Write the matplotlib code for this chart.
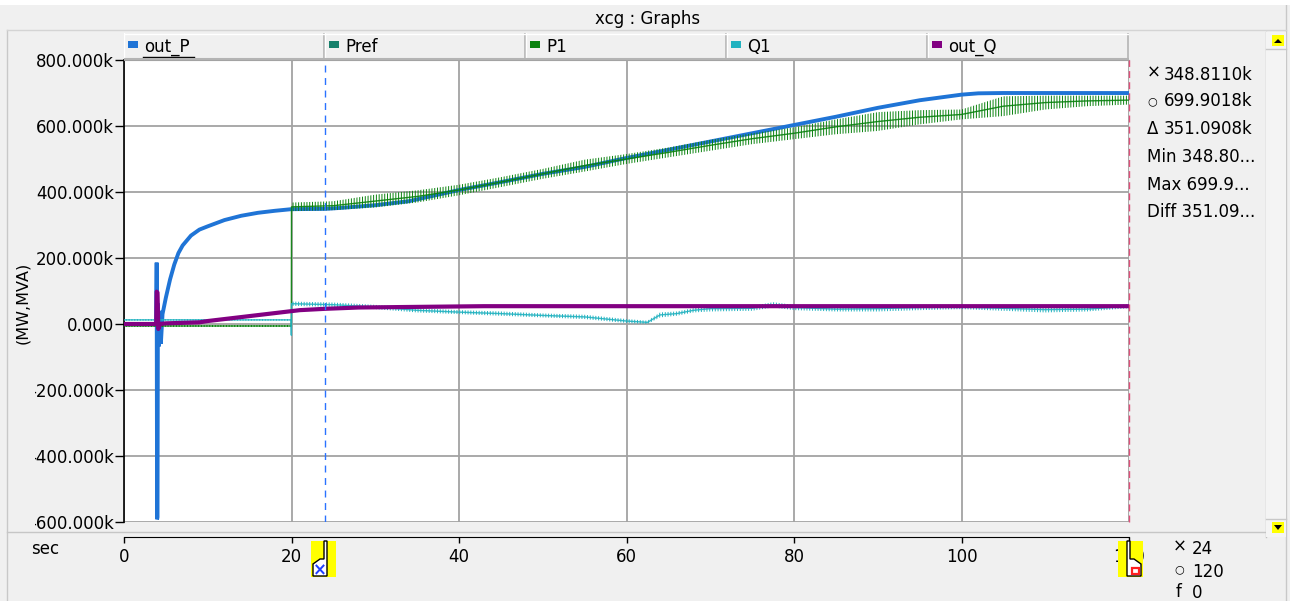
import numpy as np
import matplotlib
matplotlib.use('Agg')
import matplotlib.pyplot as plt
from matplotlib.patches import Rectangle, Polygon
from matplotlib.lines import Line2D
import matplotlib.transforms as mtransforms
from matplotlib.ticker import FuncFormatter, FixedLocator

W, H = 1290, 601

# ---------------- data (values in k) ----------------
series_names = ['out_P', 'Pref', 'P1', 'Q1', 'out_Q']
series_colors = ['#1f74d6', '#17806b', '#0a820f', '#22b2c0', '#820082']

t_outP = [0, 3.85, 3.9, 3.95, 4.0, 4.05, 4.15, 4.25, 4.4, 4.6, 5.0, 5.5, 6.0, 6.5, 7.0,
          8.0, 9.0, 10, 12, 14, 16, 18, 20, 24, 26, 30, 34, 40, 45, 50, 55, 60, 65,
          70, 75, 80, 85, 90, 95, 100, 102, 105, 120]
v_outP = [0, 0, 186, -592, -585, 62, -68, 40, -60, 30, 80, 135, 180, 215, 238,
          268, 286, 296, 315, 328, 337, 343, 348, 348.8, 352, 360, 372, 406, 430, 455, 476, 503, 528,
          553, 578, 603, 628, 655, 678, 695, 699, 700, 699.9]

t_P1 = [0, 19.98, 20.0, 25, 30, 35, 40, 45, 50, 55, 60, 65, 70, 75, 80, 85, 90, 95,
        100, 105, 110, 115, 120]
P1_lo = [-9, -9, 342, 345, 353, 368, 390, 415, 440, 462, 485, 505, 525, 545, 560, 575,
         585, 605, 620, 630, 650, 660, 665]
P1_hi = [-3, -3, 368, 372, 392, 405, 422, 445, 470, 498, 515, 535, 558, 578, 596, 620,
         642, 648, 650, 690, 692, 692, 692]

t_Q1 = [0, 19.96, 19.98, 20.0, 25, 30, 35, 40, 45, 50, 55, 60, 62.5, 64, 66, 68, 70,
        75, 77.5, 80, 85, 90, 95, 100, 105, 110, 115, 120]
Q1_lo = [10, 10, -38, 55, 52, 45, 35, 30, 25, 20, 15, 3, 0, 20, 25, 35, 38,
         40, 50, 42, 38, 38, 42, 45, 40, 35, 38, 48]
Q1_hi = [15, 15, -30, 68, 65, 58, 48, 42, 38, 32, 28, 15, 10, 35, 38, 48, 55,
         55, 66, 58, 52, 55, 58, 58, 55, 52, 52, 60]

t_outQ = [0, 3.85, 3.9, 4.0, 4.1, 4.3, 5.0, 9.0, 10, 12, 14, 16, 18, 20, 21, 24, 28, 43, 120]
v_outQ = [0, 0, 98, 95, -15, 0, 2, 5, 9, 15, 21, 27, 33, 39, 42, 46, 50, 54, 54]

x_ticks = [0, 20, 40, 60, 80, 100, 120]
y_ticks = [-600, -400, -200, 0, 200, 400, 600, 800]
cursor_x = 24
cursor_o = 120
cursor_texts = ['348.8110k', '699.9018k', '351.0908k']
stat_texts = ['Min 348.80...', 'Max 699.9...', 'Diff 351.09...']
time_texts = ['24', '120', '0']
title_text = 'xcg : Graphs'
ylabel_text = '(MW,MVA)'
xunit_text = 'sec'

# ---------------- figure ----------------
FS = 12
plt.rcParams['font.family'] = ['DejaVu Sans']
plt.rcParams['hatch.linewidth'] = 0.7
BG = '#f0f0f0'
fig = plt.figure(figsize=(W / 100, H / 100), dpi=100, facecolor=BG)
ID = mtransforms.IdentityTransform()


def P(x, y):
    """image pixel -> display coords"""
    return (x, H - y)


def rect_px(x0, y0, x1, y1, **kw):
    r = Rectangle(P(x0, y1), x1 - x0, y1 - y0, transform=ID, **kw)
    fig.patches.append(r)
    return r


def line_px(xs, ys, **kw):
    l = Line2D(xs, [H - y for y in ys], transform=ID, **kw)
    fig.lines.append(l)
    return l


def text_px(x, y, s, **kw):
    kw.setdefault('fontsize', FS)
    kw.setdefault('va', 'center')
    return fig.text(x, H - y, s, transform=ID, **kw)


# window chrome
rect_px(0, 0, W, 5, facecolor='white', edgecolor='none', zorder=0)
line_px([7, 7], [30, 601], color='#c8c8c8', lw=1, zorder=0)
line_px([1286, 1286], [5, 601], color='#c8c8c8', lw=1, zorder=0)
line_px([7, 1286], [30, 30], color='#d4d4d4', lw=1, zorder=0)
text_px(648, 19, title_text, ha='center')

# main axes
AX_L, AX_R, AX_T, AX_B = 124, 1129, 60, 522
ax = fig.add_axes([AX_L / W, (H - AX_B) / H, (AX_R - AX_L) / W, (AX_B - AX_T) / H])
ax.set_facecolor('white')
ax.set_xlim(0, 120)
ax.set_ylim(-600, 800)

grid_c = '#a3a3a3'
ax.xaxis.set_major_locator(FixedLocator(x_ticks))
ax.yaxis.set_major_locator(FixedLocator(y_ticks))
ax.grid(True, color=grid_c, lw=1.3, zorder=0)
ax.set_axisbelow(True)


def yfmt(v, pos):
    if v == 0:
        return '0.000'
    return '%.3fk' % v


ax.yaxis.set_major_formatter(FuncFormatter(yfmt))
ax.tick_params(axis='y', direction='out', length=6.5, width=1, pad=0.5, labelsize=FS,
               colors='black')
ax.tick_params(axis='x', direction='out', length=4.5, width=1, pad=3.0, labelsize=FS,
               colors='black')
ax.spines['bottom'].set_position(('outward', 11))
ax.spines['bottom'].set_color('black')
ax.spines['left'].set_color('black')
ax.spines['left'].set_linewidth(1.2)
ax.spines['top'].set_color(grid_c)
ax.spines['right'].set_visible(False)

ax.set_ylabel(ylabel_text, fontsize=11.5)
ax.yaxis.set_label_coords((30 - AX_L) / (AX_R - AX_L), (AX_B - 303) / (AX_B - AX_T))

# series
c_outP, c_Pref, c_P1, c_Q1, c_outQ = series_colors
ax.plot(t_outP, v_outP, color=c_outP, lw=2.8, zorder=3, solid_joinstyle='miter')

plt.rcParams['hatch.color'] = c_P1
ax.fill_between(t_P1, P1_lo, P1_hi, facecolor='none', edgecolor=c_P1, linewidth=0,
                hatch='||||||', zorder=4)
P1_mid = (np.array(P1_lo) + np.array(P1_hi)) / 2
ax.plot(t_P1, P1_mid, color=c_P1, lw=1.0, alpha=0.9, zorder=4)

plt.rcParams['hatch.color'] = c_Q1
ax.fill_between(t_Q1, Q1_lo, Q1_hi, facecolor='none', edgecolor=c_Q1, linewidth=0,
                hatch='||||||', zorder=5)
Q1_mid = (np.array(Q1_lo) + np.array(Q1_hi)) / 2
ax.plot(t_Q1, Q1_mid, color=c_Q1, lw=1.0, alpha=0.9, zorder=5)

ax.plot(t_outQ, v_outQ, color=c_outQ, lw=3.0, zorder=6)

# cursors
ax.axvline(cursor_x, color='#2a72ff', lw=1.0, dashes=(5, 4), zorder=7)
ax.axvline(cursor_o, color='#e0507a', lw=1.0, dashes=(5, 3), zorder=7, clip_on=False)

# the panel edge hides most of the minus sign of negative tick labels
rect_px(30, 380, 34.8, 530, facecolor=BG, edgecolor='none', zorder=3)

# separator line above x axis strip
line_px([7, 1265], [532, 532], color='#c6c6c6', lw=1, zorder=0)
text_px(31, 549, xunit_text, ha='left')

# legend header
hdr = fig.add_axes([AX_L / W, (H - AX_T) / H, (AX_R - AX_L) / W, 27 / H])
hdr.set_xlim(0, 5)
hdr.set_ylim(0, 27)
hdr.axis('off')
for i, (name, col) in enumerate(zip(series_names, series_colors)):
    hdr.add_patch(Rectangle((i, 0), 1, 27, facecolor=BG, edgecolor='none'))
    hdr.plot([i + 1 - 0.006, i + 1 - 0.006], [2, 27], color='#b4b4b4', lw=1.2)
    hdr.plot([i + 0.002, i + 0.002], [2, 27], color='white', lw=1.0)
    sq_w = 10 / 201
    hdr.add_patch(Rectangle((i + 4 / 201, 12), sq_w, 7, facecolor=col, edgecolor='none'))
    hdr.text(i + 20 / 201, 13, name, fontsize=FS, va='center', ha='left')
    if i == 0:
        hdr.plot([i + 19 / 201, i + 70 / 201], [3.5, 3.5], color='black', lw=1.0)
hdr.plot([0, 5], [1, 1], color='#b4b4b4', lw=1.5)
hdr.plot([0, 5], [26.5, 26.5], color='white', lw=1.0)

# right info panel
syms = ['\u00d7', '\u25cb', '\u0394']
ys = [75, 101, 129]
for s, v, y in zip(syms, cursor_texts, ys):
    text_px(1147, y - (2 if s == '\u00d7' else 0), s, ha='left',
            fontsize=FS if s != '\u25cb' else 8)
    text_px(1164, y, v, ha='left')
for s, y in zip(stat_texts, [157, 185, 212]):
    text_px(1147, y, s, ha='left')

# scrollbar
rect_px(1266, 32, 1286, 537, facecolor='#f4f4f4', edgecolor='none', zorder=0)
line_px([1266, 1266], [32, 537], color='#c0c0c0', lw=1, zorder=0)
rect_px(1272, 35, 1284, 46, facecolor='#ffff00', edgecolor='none', zorder=2)
fig.patches.append(Polygon([P(1274, 43), P(1282, 43), P(1278, 39)], closed=True,
                           facecolor='black', edgecolor='none', transform=ID, zorder=3))
line_px([1266, 1286], [49, 49], color='#c8c8c8', lw=1, zorder=1)
rect_px(1272, 522, 1284, 533, facecolor='#ffff00', edgecolor='none', zorder=2)
fig.patches.append(Polygon([P(1274, 525), P(1282, 525), P(1278, 530)], closed=True,
                           facecolor='black', edgecolor='none', transform=ID, zorder=3))
line_px([1266, 1286], [519, 519], color='#c8c8c8', lw=1, zorder=1)


# bottom cursor markers
def xpix(t):
    return ax.transData.transform((t, 0))[0]


xc = xpix(cursor_x)
rect_px(xc - 14, 541, xc + 11, 577, facecolor='#ffff00', edgecolor='none', zorder=5)
fig.patches.append(Polygon([P(xc - 1, 541), P(xc + 2, 541), P(xc + 2, 576), P(xc - 12, 576),
                            P(xc - 12, 564), P(xc - 5, 559), P(xc - 1, 559)], closed=True,
                           facecolor='white', edgecolor='black', lw=1, transform=ID, zorder=6))
text_px(xc - 5, 570, '\u00d7', ha='center', color='#2040ff', fontsize=12, fontweight='bold',
        zorder=7)

xo = xpix(cursor_o)
rect_px(xo - 11, 541, xo + 14, 577, facecolor='#ffff00', edgecolor='none', zorder=5)
fig.patches.append(Polygon([P(xo - 2, 541), P(xo + 1, 541), P(xo + 1, 559), P(xo + 5, 559),
                            P(xo + 12, 564), P(xo + 12, 576), P(xo - 2, 576)], closed=True,
                           facecolor='white', edgecolor='black', lw=1, transform=ID, zorder=6))
fig.patches.append(Rectangle(P(xo + 3, 574), 7, 6, facecolor='none', edgecolor='#ff2020',
                             lw=1.6, transform=ID, zorder=7))

# bottom right time info
text_px(1173, 547, '\u00d7', ha='left')
text_px(1192, 549, time_texts[0], ha='left')
text_px(1174, 569, '\u25cb', ha='left', fontsize=8)
text_px(1192, 572, time_texts[1], ha='left')
text_px(1176, 592, 'f', ha='left')
text_px(1192, 593, time_texts[2], ha='left')

fig.savefig('out.png', dpi=100, facecolor=BG)
